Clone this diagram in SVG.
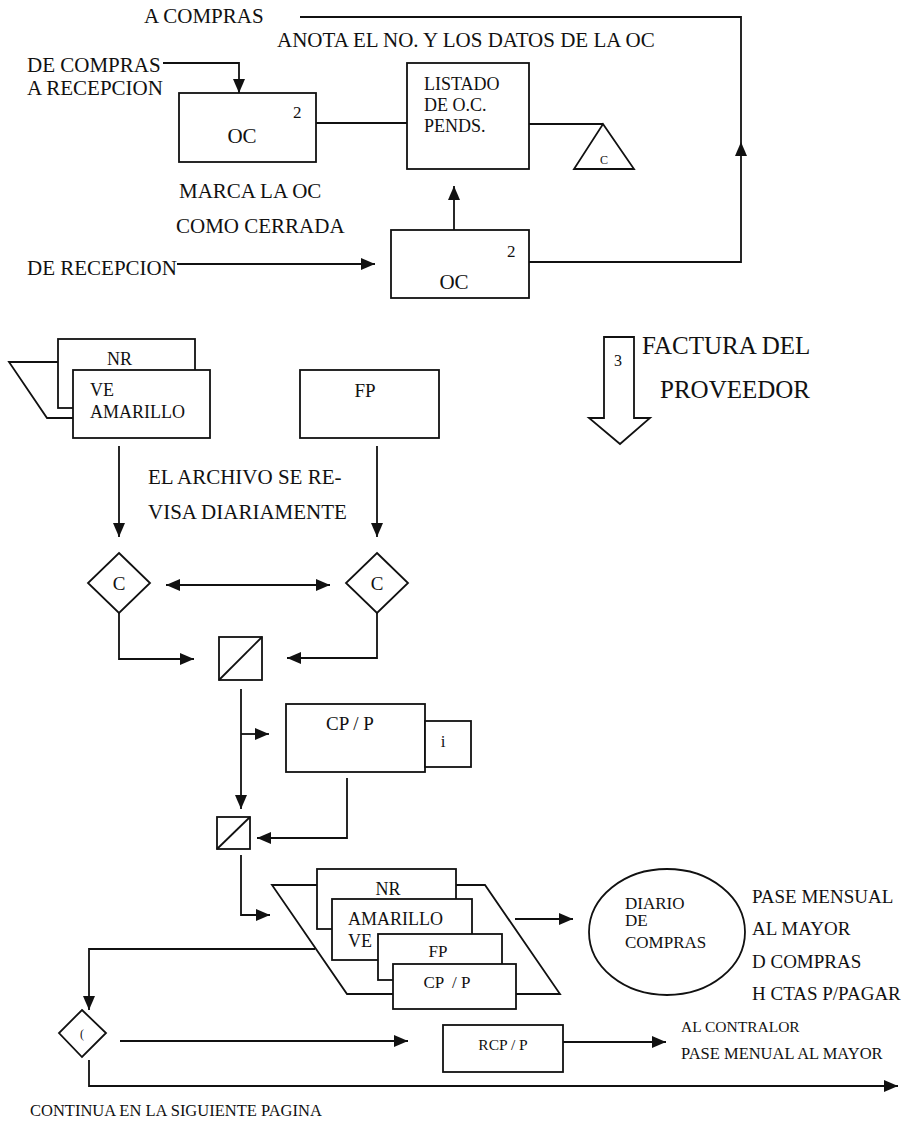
<svg xmlns="http://www.w3.org/2000/svg" width="910" height="1122" viewBox="0 0 910 1122" font-family="Liberation Serif, Times New Roman, serif">
<style>
text{font-family:"Liberation Serif","Times New Roman",serif;fill:#111}
.b{fill:#fff;stroke:#111;stroke-width:1.8}
.c{fill:none;stroke:#111;stroke-width:1.8}
.m{text-anchor:middle}
.t21{font-size:21px}.t18{font-size:18px}.t19{font-size:19px}.t17{font-size:17px}.t15{font-size:15.5px}.t16{font-size:16.5px}
</style>
<defs>
<marker id="ah" viewBox="0 0 14 12" refX="14" refY="6" markerWidth="14" markerHeight="12" markerUnits="userSpaceOnUse" orient="auto-start-reverse">
<path d="M0,0 L14,6 L0,12 z" fill="#111"/>
</marker>
</defs>
<rect width="910" height="1122" fill="#fff"/>

<g id="labels">
<text class="t21" x="144" y="23">A COMPRAS</text>
<text class="t21" x="277" y="47">ANOTA EL NO. Y LOS DATOS DE LA OC</text>
<text class="t21" x="27" y="72">DE COMPRAS</text>
<text class="t21" x="27" y="95">A RECEPCION</text>
<text class="t21" x="179" y="198">MARCA LA OC</text>
<text class="t21" x="176" y="233">COMO CERRADA</text>
<text class="t21" x="27" y="275">DE RECEPCION</text>
<text class="t21" x="148" y="484">EL ARCHIVO SE RE-</text>
<text class="t21" x="148" y="519">VISA DIARIAMENTE</text>
<text class="t19" x="752" y="903">PASE MENSUAL</text>
<text class="t19" x="752" y="935">AL MAYOR</text>
<text class="t19" x="752" y="968">D COMPRAS</text>
<text class="t19" x="752" y="1000">H CTAS P/PAGAR</text>
<text class="t15" x="681" y="1032">AL CONTRALOR</text>
<text class="t16" x="681" y="1059">PASE MENUAL AL MAYOR</text>
<text class="t16" x="30" y="1116">CONTINUA EN LA SIGUIENTE PAGINA</text>
</g>

<g id="connectors">
<path class="c" d="M529,262 H741 V142" marker-end="url(#ah)"/>
<path class="c" d="M741,142 V17 H300"/>
<path class="c" d="M163,63 H239 V93" marker-end="url(#ah)"/>
<path class="c" d="M316,123 H407"/>
<path class="c" d="M529,124 H603"/>
<path class="c" d="M454,230 V186" marker-end="url(#ah)"/>
<path class="c" d="M177,264 H375" marker-end="url(#ah)"/>
<path class="c" d="M119,446 V537" marker-end="url(#ah)"/>
<path class="c" d="M377,446 V537" marker-end="url(#ah)"/>
<path class="c" d="M166,585 H330" marker-start="url(#ah)" marker-end="url(#ah)"/>
<path class="c" d="M119,613 V659 H194" marker-end="url(#ah)"/>
<path class="c" d="M377,613 V658 H287" marker-end="url(#ah)"/>
<path class="c" d="M241,689 V809" marker-end="url(#ah)"/>
<path class="c" d="M241,734 H269" marker-end="url(#ah)"/>
<path class="c" d="M347,778 V838 H257" marker-end="url(#ah)"/>
<path class="c" d="M241,855 V915 H270" marker-end="url(#ah)"/>
<path class="c" d="M515,919 H573" marker-end="url(#ah)"/>
<path class="c" d="M315,949 H89 V1010" marker-end="url(#ah)"/>
<path class="c" d="M120,1041 H408" marker-end="url(#ah)"/>
<path class="c" d="M563,1042 H666" marker-end="url(#ah)"/>
<path class="c" d="M89,1060 V1086 H898" marker-end="url(#ah)"/>
</g>

<g id="oc1">
<rect class="b" x="179" y="93" width="137" height="69"/>
<text class="t17" x="293" y="118">2</text>
<text class="t21 m" x="242" y="143">OC</text>
</g>

<g id="listado">
<rect class="b" x="407" y="63" width="122" height="106"/>
<text class="t18" x="424" y="90">LISTADO</text>
<text class="t18" x="424" y="111">DE O.C.</text>
<text class="t18" x="424" y="132">PENDS.</text>
</g>

<g id="archivo-c">
<polygon class="b" points="603,124 634,169 574,169"/>
<text class="m" style="font-size:12px" x="604" y="164">C</text>
</g>

<g id="oc2">
<rect class="b" x="391" y="230" width="138" height="68"/>
<text class="t17" x="507" y="257">2</text>
<text class="t21 m" x="454" y="289">OC</text>
</g>

<g id="nr-ve">
<polygon class="b" points="9,362 120,362 140,418 47,418"/>
<rect class="b" x="58" y="339" width="137" height="69"/>
<text class="t18" x="107" y="365">NR</text>
<rect class="b" x="73" y="370" width="137" height="68"/>
<text class="t18" x="90" y="396">VE</text>
<text class="t18" x="90" y="418">AMARILLO</text>
</g>

<g id="fp">
<rect class="b" x="300" y="370" width="139" height="68"/>
<text class="t19 m" x="365" y="397">FP</text>
</g>

<g id="factura">
<polygon class="b" points="604,337 634,337 634,418 650,418 620,444 589,418 604,418"/>
<text class="m" style="font-size:16px" x="618" y="366">3</text>
<text style="font-size:25px" x="642" y="354">FACTURA DEL</text>
<text style="font-size:25px" x="660" y="398">PROVEEDOR</text>
</g>

<g id="diamond-left">
<polygon class="b" points="119,553 150,583 119,613 88,583"/>
<text class="t19 m" x="119" y="590">C</text>
</g>

<g id="diamond-right">
<polygon class="b" points="377,553 408,583 377,613 346,583"/>
<text class="t19 m" x="377" y="590">C</text>
</g>

<g id="cotejo1">
<rect class="b" x="219" y="637" width="43" height="43"/>
<line class="c" x1="219" y1="680" x2="262" y2="637"/>
</g>

<g id="cpp">
<rect class="b" x="286" y="704" width="139" height="68"/>
<rect class="b" x="425" y="721" width="46" height="46"/>
<text class="t19 m" x="350" y="730">CP / P</text>
<text class="t17 m" x="443" y="747">i</text>
</g>

<g id="cotejo2">
<rect class="b" x="217" y="817" width="33" height="32"/>
<line class="c" x1="217" y1="849" x2="250" y2="817"/>
</g>

<g id="archivo-stack">
<polygon class="b" points="272,885 485,885 560,994 347,994"/>
<rect class="b" x="317" y="869" width="139" height="60"/>
<text class="t18 m" x="388" y="895">NR</text>
<rect class="b" x="332" y="899" width="140" height="61"/>
<text class="t18" x="348" y="925">AMARILLO</text>
<text class="t18" x="348" y="947">VE</text>
<rect class="b" x="378" y="934" width="124" height="46"/>
<text class="t17 m" x="438" y="957">FP</text>
<rect class="b" x="393" y="964" width="123" height="45"/>
<text class="t17 m" x="447" y="988" xml:space="preserve">CP  / P</text>
</g>

<g id="diario">
<ellipse class="b" cx="667" cy="932" rx="78" ry="63"/>
<text class="t17" x="625" y="909">DIARIO</text>
<text class="t17" x="625" y="926">DE</text>
<text class="t17" x="625" y="948">COMPRAS</text>
</g>

<g id="diamond-small">
<polygon class="b" points="82,1010 106,1033 82,1057 59,1033"/>
<text class="m" style="font-size:12px" x="82" y="1038">(</text>
</g>

<g id="rcpp">
<rect class="b" x="443" y="1025" width="120" height="47"/>
<text class="t15 m" x="503" y="1050">RCP / P</text>
</g>
</svg>
